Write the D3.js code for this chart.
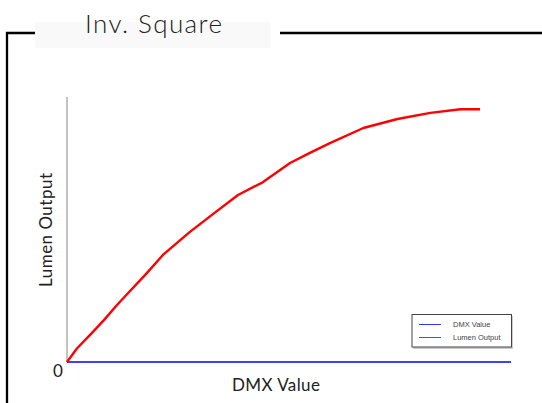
<!DOCTYPE html>
<html><head><meta charset="utf-8">
<script src="https://cdn.jsdelivr.net/npm/d3@7"></script>
<style>body{margin:0;background:#fff}svg{display:block}</style>
</head><body>
<script>
const title = "Inv. Square";
const xLabel = "DMX Value";
const yLabel = "Lumen Output";
const seriesNames = ["DMX Value", "Lumen Output"];
const dmxX = [0, 5.7, 13.8, 21.2, 28.7, 36.2, 44.8, 55.1, 70.6, 83.8, 98.2, 112.6, 128.1, 139.5, 151.0, 170.2, 189.8, 208.7, 225.9, 237.2];
const lumen = [0, 5.1, 10.6, 15.8, 21.5, 26.8, 32.8, 40.4, 49.1, 55.8, 63.0, 67.9, 75.1, 78.9, 82.6, 88.3, 91.7, 94.0, 95.4, 95.4];
const dmxLineX = [0, 255];
const dmxLineY = [0, 0];
const yTickLabels = ["0"];

const W = 542, H = 403;
const svg = d3.select("body").append("svg").attr("width", W).attr("height", H);

// frame
svg.append("rect").attr("x", 35).attr("y", 22).attr("width", 236).attr("height", 26).attr("fill", "#f9f9f9");
svg.append("path").attr("d", "M7,403 V33 H35").attr("fill", "none").attr("stroke", "#000").attr("stroke-width", 2.3);
svg.append("line").attr("x1", 280).attr("x2", 542).attr("y1", 33).attr("y2", 33).attr("stroke", "#000").attr("stroke-width", 2.3);
svg.append("text").attr("x", 85).attr("y", 33).text(title)
  .attr("font-family", "Lato, 'DejaVu Sans', sans-serif").attr("font-weight", 300).attr("font-size", 26)
  .attr("textLength", 137).attr("lengthAdjust", "spacing").attr("fill", "#222");

const x = d3.scaleLinear().domain([0, 255]).range([67, 511]);
const y = d3.scaleLinear().domain([0, 100]).range([362, 97]);

// y axis
svg.append("line").attr("x1", x(0)).attr("x2", x(0)).attr("y1", y(100)).attr("y2", y(0)).attr("stroke", "#888").attr("stroke-width", 1);
svg.append("text").attr("x", 58).attr("y", 377).attr("text-anchor", "middle").text(yTickLabels[0])
  .attr("font-family", "Lato, 'DejaVu Sans', sans-serif").attr("font-size", 17).attr("fill", "#222");

// dmx line
svg.append("path").datum(dmxLineX.map((d, i) => [d, dmxLineY[i]]))
  .attr("d", d3.line().x(d => x(d[0])).y(d => y(d[1])))
  .attr("fill", "none").attr("stroke", "#0000ff").attr("stroke-width", 1.3);

// lumen line
svg.append("path").datum(dmxX.map((d, i) => [d, lumen[i]]))
  .attr("d", d3.line().x(d => x(d[0])).y(d => y(d[1])))
  .attr("fill", "none").attr("stroke", "#ff0000").attr("stroke-width", 2.4).attr("stroke-linejoin", "round");

// labels
svg.append("text").attr("x", 276).attr("y", 391).attr("text-anchor", "middle").text(xLabel)
  .attr("font-family", "Lato, 'DejaVu Sans', sans-serif").attr("font-size", 17)
  .attr("textLength", 88).attr("lengthAdjust", "spacing").attr("fill", "#222");
svg.append("text").attr("transform", "translate(52,230) rotate(-90)").attr("text-anchor", "middle").text(yLabel)
  .attr("font-family", "Lato, 'DejaVu Sans', sans-serif").attr("font-size", 17)
  .attr("textLength", 114).attr("lengthAdjust", "spacing").attr("fill", "#222");

// legend
const lg = svg.append("g");
lg.append("rect").attr("x", 413).attr("y", 316).attr("width", 100).attr("height", 33).attr("fill", "#ccc");
lg.append("rect").attr("x", 412).attr("y", 314.5).attr("width", 99.5).attr("height", 32.5).attr("fill", "#fff").attr("stroke", "#444").attr("stroke-width", 1);
const colors = ["#3333ff", "#ee2222"];
seriesNames.forEach((n, i) => {
  const yy = 324.5 + i * 13;
  lg.append("line").attr("x1", 419).attr("x2", 441).attr("y1", yy).attr("y2", yy).attr("stroke", colors[i]).attr("stroke-width", 1);
  lg.append("text").attr("x", 453).attr("y", yy + 2.8).text(n)
    .attr("font-family", "'Liberation Sans', Arial, sans-serif").attr("font-size", 7.5).attr("fill", "#444");
});
</script>
</body></html>
